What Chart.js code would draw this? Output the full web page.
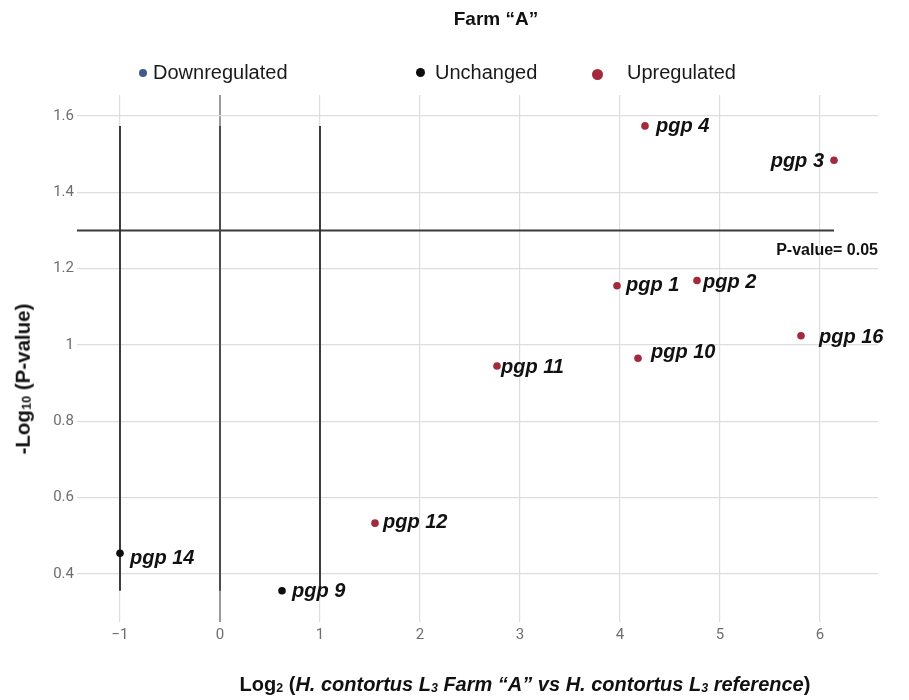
<!DOCTYPE html>
<html>
<head>
<meta charset="utf-8">
<title>Farm “A” volcano plot</title>
<script src="https://cdn.jsdelivr.net/npm/chart.js@4.4.1/dist/chart.umd.min.js"></script>
<style>
  html, body { margin: 0; padding: 0; background: #ffffff; }
  #wrap { position: relative; width: 909px; height: 700px; overflow: hidden;
          font-family: "Liberation Sans", Arial, sans-serif; color: #111; }
  #c { position: absolute; left: 0; top: 0; }
  .txt { position: absolute; white-space: nowrap; line-height: 1; }
  #title { left: 496px; top: 9px; transform: translateX(-50%); font-weight: bold; font-size: 19px; }
  .lg-dot { position: absolute; border-radius: 50%; }
  .lg-text { position: absolute; white-space: nowrap; font-size: 20px; line-height: 20px; color: #1a1a1a; }
  #ytitle { left: 23px; top: 379px; transform: translate(-50%, -50%) rotate(-90deg);
            font-weight: bold; font-size: 20.5px; }
  #xtitle { left: 525px; top: 684px; transform: translate(-50%, -50%);
            font-weight: bold; font-size: 20px; }
  sub { font-size: 0.62em; vertical-align: -0.05em; line-height: 0; }
</style>
</head>
<body>
<div id="wrap">
  <canvas id="c" width="909" height="700"></canvas>
  <div id="title" class="txt">Farm “A”</div>
  <div id="legend"></div>
  <div id="ytitle" class="txt">-Log<sub>10</sub> (P-value)</div>
  <div id="xtitle" class="txt">Log<sub>2</sub> (<i>H. contortus L<sub>3</sub> Farm “A” vs H. contortus L<sub>3</sub> reference</i>)</div>
</div>
<script>
// ---- data ----
const genes          = ['pgp 1', 'pgp 2', 'pgp 3', 'pgp 4', 'pgp 9', 'pgp 10', 'pgp 11', 'pgp 12', 'pgp 14', 'pgp 16'];
const log2FoldChange = [3.97, 4.77, 6.14, 4.25, 0.62, 4.18, 2.77, 1.55, -1.00, 5.81];
const negLog10P      = [1.155, 1.169, 1.484, 1.574, 0.356, 0.965, 0.945, 0.533, 0.454, 1.024];
const regulation     = ['up', 'up', 'up', 'up', 'unchanged', 'up', 'up', 'up', 'unchanged', 'up'];

const categories     = ['down', 'unchanged', 'up'];
const categoryNames  = ['Downregulated', 'Unchanged', 'Upregulated'];

const foldCutoffs    = [-1, 0, 1];     // vertical guide lines
const pThreshold     = 1.3;            // -log10(0.05)
const pCaption       = 'P-value= 0.05';

const xTickValues = [-1, 0, 1, 2, 3, 4, 5, 6];
const xTickLabels = ['\u22121', '0', '1', '2', '3', '4', '5', '6'];
const yTickValues = [0.4, 0.6, 0.8, 1, 1.2, 1.4, 1.6];
const yTickLabels = ['0.4', '0.6', '0.8', '1', '1.2', '1.4', '1.6'];

// ---- styling ----
const categoryColor = { down: '#3f5a8c', unchanged: '#0d0d0d', up: '#a3293d' };
const legendDot = [
  { left: 143, top: 73, r: 4 },
  { left: 420, top: 72, r: 4.5 },
  { left: 597, top: 74, r: 5.5 }
];
const legendTextLeft = [153, 435, 627];

// label offsets from each point: [dx, dy, side]
const labelPlacement = [
  [9, 5, 'right'],    // pgp 1
  [6, 8, 'right'],    // pgp 2
  [-10, 7, 'left'],   // pgp 3
  [11, 6, 'right'],   // pgp 4
  [10, 6, 'right'],   // pgp 9
  [13, 0, 'right'],   // pgp 10
  [4, 7, 'right'],    // pgp 11
  [8, 5, 'right'],    // pgp 12
  [10, 11, 'right'],  // pgp 14
  [18, 7, 'right']    // pgp 16
];

const xAxisMin = -1.43, xAxisMax = 6.58;
const yAxisMin = 0.274, yAxisMax = 1.655;

// ---- legend (html) ----
const legendEl = document.getElementById('legend');
categories.forEach((cat, i) => {
  const d = document.createElement('div');
  d.className = 'lg-dot';
  const r = legendDot[i].r;
  d.style.cssText = `left:${legendDot[i].left - r}px;top:${legendDot[i].top - r}px;width:${2 * r}px;height:${2 * r}px;background:${categoryColor[cat]};`;
  legendEl.appendChild(d);
  const t = document.createElement('div');
  t.className = 'lg-text';
  t.textContent = categoryNames[i];
  t.style.left = legendTextLeft[i] + 'px';
  t.style.top = '62px';
  legendEl.appendChild(t);
});

// ---- guide line datasets ----
const yLo = Math.min(...negLog10P), yHi = Math.max(...negLog10P);
const xHi = Math.max(...log2FoldChange);

const guideDatasets = foldCutoffs.map(fc => ({
  type: 'line',
  data: [{ x: fc, y: yLo }, { x: fc, y: yHi }],
  borderColor: fc === 0 ? '#444444' : '#2a2a2a',
  borderWidth: 1.8,
  pointRadius: 0,
  fill: false,
  order: 2
}));
guideDatasets.push({
  type: 'line',
  data: [{ x: xAxisMin, y: pThreshold }, { x: xHi, y: pThreshold }],
  borderColor: '#3a3a3a',
  borderWidth: 2,
  pointRadius: 0,
  fill: false,
  order: 2
});

const pointsDataset = {
  type: 'scatter',
  data: log2FoldChange.map((x, i) => ({ x, y: negLog10P[i] })),
  pointRadius: 3.8,
  pointHoverRadius: 3.8,
  pointBorderWidth: 0,
  pointBackgroundColor: regulation.map(r => categoryColor[r]),
  pointBorderColor: regulation.map(r => categoryColor[r]),
  order: 1
};

// ---- point labels and threshold caption ----
const pointLabels = {
  id: 'pointLabels',
  afterDatasetsDraw(chart) {
    const { ctx, chartArea } = chart;
    const meta = chart.getDatasetMeta(chart.data.datasets.length - 1);
    ctx.save();
    ctx.fillStyle = '#111111';
    ctx.textBaseline = 'alphabetic';
    ctx.font = 'italic bold 20px "Liberation Sans", Arial, sans-serif';
    meta.data.forEach((pt, i) => {
      const [dx, dy, side] = labelPlacement[i];
      ctx.textAlign = side === 'left' ? 'right' : 'left';
      ctx.fillText(genes[i], pt.x + dx, pt.y + dy);
    });
    const yPix = chart.scales.y.getPixelForValue(pThreshold);
    ctx.font = 'bold 16px "Liberation Sans", Arial, sans-serif';
    ctx.textAlign = 'right';
    ctx.fillText(pCaption, chartArea.right, yPix + 25);
    ctx.restore();
  }
};

const tickFont = { family: 'Roboto, "Liberation Sans", sans-serif', size: 15 };

new Chart(document.getElementById('c'), {
  type: 'scatter',
  data: { datasets: [...guideDatasets, pointsDataset] },
  options: {
    responsive: false,
    animation: false,
    layout: { padding: { left: 0, top: 95, right: 31, bottom: 0 } },
    plugins: { legend: { display: false }, title: { display: false }, tooltip: { enabled: false } },
    scales: {
      x: {
        type: 'linear',
        min: xAxisMin, max: xAxisMax,
        afterFit(s) { s.height = 78; },
        afterBuildTicks(s) { s.ticks = xTickValues.map(v => ({ value: v })); },
        ticks: {
          padding: 4, color: '#6e6e6e', font: tickFont, maxRotation: 0,
          callback: (v) => xTickLabels[xTickValues.indexOf(v)]
        },
        grid: {
          drawTicks: false,
          color: (c) => (c.tick && c.tick.value === 0) ? '#9a9a9a' : '#dddddd',
          lineWidth: (c) => (c.tick && c.tick.value === 0) ? 2 : 1.2
        },
        border: { display: false }
      },
      y: {
        type: 'linear',
        min: yAxisMin, max: yAxisMax,
        afterFit(s) { s.width = 77; },
        afterBuildTicks(s) { s.ticks = yTickValues.map(v => ({ value: v })); },
        ticks: {
          padding: 3, color: '#6e6e6e', font: tickFont,
          callback: (v) => yTickLabels[yTickValues.indexOf(v)]
        },
        grid: { drawTicks: false, color: '#dddddd', lineWidth: 1.2 },
        border: { display: false }
      }
    }
  },
  plugins: [pointLabels]
});
</script>
</body>
</html>
